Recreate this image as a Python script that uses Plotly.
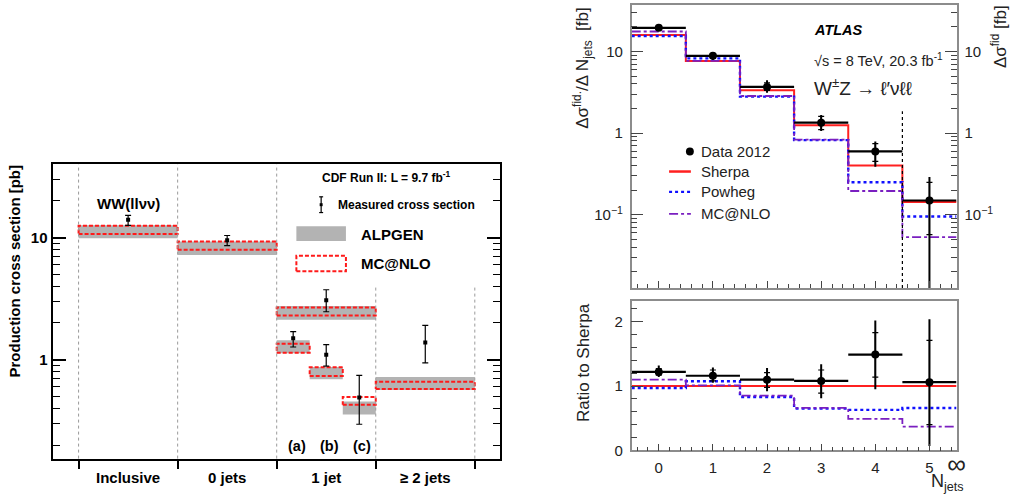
import plotly.graph_objects as go

W, H = 1024, 503

# ---------------- Left panel data (CDF WW cross sections, pb) ----------------
cdf_labels = ["Inclusive", "0 jets", "1 jet", "≥ 2 jets"]
cdf_bin_lo = [0, 1, 2, 2, 2.333, 2.667, 3]
cdf_bin_hi = [1, 2, 3, 2.333, 2.667, 3, 4]
alpgen_lo = [9.9, 7.2, 2.12, 1.13, 0.69, 0.356, 0.564]
alpgen_hi = [12.6, 9.3, 2.75, 1.44, 0.87, 0.455, 0.723]
mcnlo_lo = [10.7, 7.96, 2.30, 1.14, 0.736, 0.428, 0.574]
mcnlo_hi = [12.5, 9.29, 2.68, 1.35, 0.869, 0.495, 0.659]
meas = [14.0, 9.5, 3.07, 1.50, 1.10, 0.49, 1.38]
meas_hi = [15.2, 10.4, 3.74, 1.70, 1.33, 0.744, 1.91]
meas_lo = [12.6, 8.58, 2.47, 1.27, 0.886, 0.296, 0.941]

# ---------------- Right panel data (ATLAS WZ, fb) ----------------
njets = [0, 1, 2, 3, 4, 5]
njet_ticktext = ["0", "1", "2", "3", "4", "5"]
data2012 = [19.5, 8.85, 3.68, 1.34, 0.596, 0.149]
data_tot_up = [1.6, 1.0, 0.75, 0.33, 0.19, 0.14]
data_tot_dn = [1.6, 1.0, 0.55, 0.28, 0.21, 0.145]
data_stat_up = [0.7, 0.6, 0.45, 0.26, 0.147, 0.10]
data_stat_dn = [0.7, 0.6, 0.35, 0.24, 0.145, 0.092]
sherpa = [16.0, 7.65, 3.36, 1.25, 0.40, 0.143]
powheg = [15.5, 8.25, 2.80, 0.82, 0.25, 0.095]
mcatnlo = [17.6, 7.7, 2.85, 0.83, 0.195, 0.053]

ratio_data = [1.22, 1.16, 1.10, 1.08, 1.49, 1.06]
ratio_tot_up = [0.10, 0.13, 0.18, 0.26, 0.53, 0.98]
ratio_tot_dn = [0.08, 0.11, 0.18, 0.27, 0.54, 0.99]
ratio_stat_up = [0.05, 0.09, 0.11, 0.17, 0.34, 0.65]
ratio_stat_dn = [0.05, 0.08, 0.12, 0.19, 0.35, 0.66]
ratio_sherpa = [1.0, 1.0, 1.0, 1.0, 1.0, 1.0]
ratio_powheg = [0.97, 1.075, 0.83, 0.65, 0.63, 0.66]
ratio_mcatnlo = [1.10, 1.01, 0.85, 0.66, 0.49, 0.37]

FONT = "Liberation Sans"


def px(x):
    return x / W


def py(y):
    return 1 - y / H


def rects(x0s, x1s, y0s, y1s):
    xs, ys = [], []
    for a, b, c, d in zip(x0s, x1s, y0s, y1s):
        xs += [a, b, b, a, a, None]
        ys += [c, c, d, d, c, None]
    return xs, ys


def steps(vals):
    edges = [n - 0.5 for n in njets] + [njets[-1] + 0.5]
    return edges, list(vals) + [vals[-1]]


fig = go.Figure()

# ---- Left panel traces ----
ax, ay = rects(cdf_bin_lo, cdf_bin_hi, alpgen_lo, alpgen_hi)
fig.add_trace(go.Scatter(x=ax, y=ay, mode="lines", fill="toself", fillcolor="#b3b3b3",
                         line=dict(width=0, color="#b3b3b3"), xaxis="x", yaxis="y",
                         showlegend=False, hoverinfo="skip"))
mx, my = rects(cdf_bin_lo, cdf_bin_hi, mcnlo_lo, mcnlo_hi)
fig.add_trace(go.Scatter(x=mx, y=my, mode="lines",
                         line=dict(width=2, color="#ff1a1a", dash="4px,2px"),
                         xaxis="x", yaxis="y", showlegend=False, hoverinfo="skip"))
mcx = [(a + b) / 2 for a, b in zip(cdf_bin_lo, cdf_bin_hi)]
fig.add_trace(go.Scatter(
    x=mcx, y=meas, mode="markers", xaxis="x4", yaxis="y",
    marker=dict(symbol="square", size=4, color="black"),
    error_y=dict(type="data", symmetric=False,
                 array=[h - v for h, v in zip(meas_hi, meas)],
                 arrayminus=[v - l for v, l in zip(meas, meas_lo)],
                 color="black", thickness=1.2, width=3),
    showlegend=False))

# ---- Right top panel traces ----
for vals, col, dash, wid in [(sherpa, "#ff2020", "solid", 2),
                             (powheg, "#1010ff", "dot", 2.4),
                             (mcatnlo, "#7a1fc0", "dashdot", 1.8)]:
    sx, sy = steps(vals)
    fig.add_trace(go.Scatter(x=sx, y=sy, mode="lines", line_shape="hv",
                             line=dict(color=col, dash=dash, width=wid),
                             xaxis="x2", yaxis="y2", showlegend=False))
fig.add_trace(go.Scatter(
    x=njets, y=data2012, mode="markers", xaxis="x2", yaxis="y5",
    marker=dict(symbol="circle", size=8, color="black"),
    error_x=dict(type="constant", value=0.5, width=0, thickness=2.2, color="black"),
    error_y=dict(type="data", symmetric=False, array=data_tot_up, arrayminus=data_tot_dn,
                 width=0, thickness=2, color="black"),
    showlegend=False))
fig.add_trace(go.Scatter(
    x=njets, y=data2012, mode="markers", xaxis="x2", yaxis="y5",
    marker=dict(size=1, color="black"),
    error_y=dict(type="data", symmetric=False, array=data_stat_up, arrayminus=data_stat_dn,
                 width=3, thickness=1.2, color="black"),
    showlegend=False))

# ---- Ratio panel traces ----
for vals, col, dash, wid in [(ratio_sherpa, "#ff2020", "solid", 2),
                             (ratio_powheg, "#1010ff", "dot", 2.4),
                             (ratio_mcatnlo, "#7a1fc0", "dashdot", 1.8)]:
    sx, sy = steps(vals)
    fig.add_trace(go.Scatter(x=sx, y=sy, mode="lines", line_shape="hv",
                             line=dict(color=col, dash=dash, width=wid),
                             xaxis="x3", yaxis="y3", showlegend=False))
fig.add_trace(go.Scatter(
    x=njets, y=ratio_data, mode="markers", xaxis="x3", yaxis="y3",
    marker=dict(symbol="circle", size=8, color="black"),
    error_x=dict(type="constant", value=0.5, width=0, thickness=2.2, color="black"),
    error_y=dict(type="data", symmetric=False, array=ratio_tot_up, arrayminus=ratio_tot_dn,
                 width=0, thickness=2, color="black"),
    showlegend=False))
fig.add_trace(go.Scatter(
    x=njets, y=ratio_data, mode="markers", xaxis="x3", yaxis="y3",
    marker=dict(size=1, color="black"),
    error_y=dict(type="data", symmetric=False, array=ratio_stat_up, arrayminus=ratio_stat_dn,
                 width=3, thickness=1.2, color="black"),
    showlegend=False))

left_minor = [0.2, 0.3, 0.4, 0.5, 0.6, 0.7, 0.8, 0.9, 2, 3, 4, 5, 6, 7, 8, 9, 20, 30]
right_minor = [0.02, 0.03, 0.04, 0.05, 0.06, 0.07, 0.08, 0.09,
               0.2, 0.3, 0.4, 0.5, 0.6, 0.7, 0.8, 0.9, 2, 3, 4, 5, 6, 7, 8, 9, 20, 30]
FRAME = "#8c8c8c"
TICKC = "#444444"

fig.update_layout(
    width=W, height=H, autosize=False,
    margin=dict(l=0, r=0, t=0, b=0),
    paper_bgcolor="white", plot_bgcolor="rgba(0,0,0,0)",
    font=dict(family=FONT, color="black"),
    showlegend=False,
    xaxis=dict(domain=[px(53), px(504)], anchor="y", range=[-0.263, 4.25],
               tickmode="array", tickvals=[0.5, 1.5, 2.5, 3.5], ticktext=cdf_labels,
               ticks="", showline=True, mirror=True, linecolor="black", linewidth=2,
               showgrid=False, zeroline=False,
               tickfont=dict(size=15, family=FONT, weight="bold"), ticklabelstandoff=4),
    xaxis4=dict(overlaying="x", anchor="y", range=[-0.263, 4.25], tickmode="array",
                tickvals=[0, 1, 2, 3, 4], ticks="outside", ticklen=9, tickwidth=1.5,
                tickcolor="black", showticklabels=False, showline=False,
                showgrid=False, zeroline=False),
    yaxis=dict(domain=[py(466), py(167)], anchor="x", type="log", range=[-0.81, 1.6],
               tickmode="array", tickvals=[1, 10], ticktext=["1", "10"],
               ticks="inside", ticklen=13, tickwidth=1.5, tickcolor="black",
               showline=True, mirror="ticks", linecolor="black", linewidth=2,
               showgrid=False, zeroline=False,
               minor=dict(tickmode="array", tickvals=left_minor, ticks="inside",
                          ticklen=7, tickwidth=1.2, tickcolor="black", showgrid=False),
               tickfont=dict(size=15, family=FONT, weight="bold")),
    xaxis2=dict(domain=[px(637.3), px(965)], anchor="y2", range=[-0.5, 5.5],
                tickmode="array", tickvals=njets, showticklabels=False,
                ticks="inside", ticklen=7, tickcolor=TICKC, mirror=True,
                showline=True, linecolor=FRAME, linewidth=1.5,
                showgrid=False, zeroline=False,
                minor=dict(tick0=0, dtick=0.2, ticks="inside", ticklen=4,
                           tickcolor=TICKC, showgrid=False)),
    yaxis2=dict(domain=[py(292.7), py(4.7)], anchor="x2", type="log", range=[-1.9, 1.575],
                tickmode="array", tickvals=[0.1, 1, 10],
                ticktext=["10<sup>−1</sup>", "1", "10"],
                ticks="inside", ticklen=12, tickcolor=TICKC, mirror="ticks",
                showline=True, linecolor=FRAME, linewidth=1.5,
                showgrid=False, zeroline=False,
                minor=dict(tickmode="array", tickvals=right_minor, ticks="inside",
                           ticklen=6, tickcolor=TICKC, showgrid=False),
                tickfont=dict(size=15, family=FONT, color="#222"), ticklabelstandoff=4),
    yaxis5=dict(overlaying="y2", anchor="x2", side="right", type="log",
                range=[-1.9, 1.575], tickmode="array", tickvals=[0.1, 1, 10],
                ticktext=["10<sup>−1</sup>", "1", "10"], ticks="",
                showline=False, showgrid=False, zeroline=False,
                tickfont=dict(size=15, family=FONT, color="#222"), ticklabelstandoff=7),
    xaxis3=dict(domain=[px(637.3), px(965)], anchor="y3", range=[-0.5, 5.5],
                tickmode="array", tickvals=njets + [5.5],
                ticktext=njet_ticktext + ['<span style="font-size:26px">∞</span>'],
                ticks="inside", ticklen=7, tickcolor=TICKC,
                showline=True, mirror=True, linecolor=FRAME, linewidth=1.5,
                showgrid=False, zeroline=False,
                minor=dict(tick0=0, dtick=0.2, ticks="inside", ticklen=4,
                           tickcolor=TICKC, showgrid=False),
                tickfont=dict(size=15, family=FONT, color="#222"), ticklabelstandoff=3),
    yaxis3=dict(domain=[py(457.7), py(306)], anchor="x3", range=[0, 2.32],
                tickmode="array", tickvals=[0, 1, 2], ticktext=["0", "1", "2"],
                ticks="inside", ticklen=12, tickcolor=TICKC,
                showline=True, mirror=True, linecolor=FRAME, linewidth=1.5,
                showgrid=False, zeroline=False,
                minor=dict(tick0=0, dtick=0.2, ticks="inside", ticklen=6,
                           tickcolor=TICKC, showgrid=False),
                tickfont=dict(size=15, family=FONT, color="#222"), ticklabelstandoff=4),
)

shapes = []
# category separators (left panel)
for xb, top in [(0, 1), (1, 1), (2, 1), (3, 0.589), (4, 0.589)]:
    shapes.append(dict(type="line", xref="x", yref="y domain", x0=xb, x1=xb, y0=0, y1=top,
                       line=dict(color="#9a9a9a", width=1, dash="dot")))
# N_jets = 5 separator (right top)
shapes.append(dict(type="line", xref="x2", yref="y2 domain", x0=4.5, x1=4.5, y0=0, y1=0.624,
                   line=dict(color="black", width=1.2, dash="dot")))
# left legend symbols
shapes += [
    dict(type="line", xref="paper", yref="paper", x0=px(324), x1=px(324), y0=py(200), y1=py(216),
         line=dict(color="black", width=1.2)),
    dict(type="line", xref="paper", yref="paper", x0=px(322), x1=px(326), y0=py(200), y1=py(200),
         line=dict(color="black", width=1.2)),
    dict(type="line", xref="paper", yref="paper", x0=px(322), x1=px(326), y0=py(216), y1=py(216),
         line=dict(color="black", width=1.2)),
    dict(type="rect", xref="paper", yref="paper", x0=px(322.5), x1=px(325.5), y0=py(209.5), y1=py(206.5),
         fillcolor="black", line=dict(width=0)),
    dict(type="rect", xref="paper", yref="paper", x0=px(299), x1=px(349), y0=py(245), y1=py(230),
         fillcolor="#b3b3b3", line=dict(width=0)),
    dict(type="rect", xref="paper", yref="paper", x0=px(299), x1=px(349), y0=py(275.7), y1=py(260),
         line=dict(color="#ff1a1a", width=2, dash="4px,2px")),
]
# right legend symbols
shapes += [
    dict(type="circle", xref="paper", yref="paper", x0=px(692), x1=px(700), y0=py(158), y1=py(150),
         fillcolor="black", line=dict(width=0)),
    dict(type="line", xref="paper", yref="paper", x0=px(675), x1=px(697), y0=py(174.3), y1=py(174.3),
         line=dict(color="#ff2020", width=2.5)),
    dict(type="line", xref="paper", yref="paper", x0=px(675), x1=px(697), y0=py(195), y1=py(195),
         line=dict(color="#1010ff", width=2.4, dash="dot")),
    dict(type="line", xref="paper", yref="paper", x0=px(675), x1=px(697), y0=py(217.3), y1=py(217.3),
         line=dict(color="#7a1fc0", width=1.8, dash="dashdot")),
]
fig.update_layout(shapes=shapes)


def ann(text, x, y, size, xanchor="left", yanchor="middle", bold=False, italic=False,
        angle=0, color="black"):
    t = text
    if italic:
        t = "<i>" + t + "</i>"
    return dict(text=t, x=px(x), y=py(y), xref="paper", yref="paper", showarrow=False,
                xanchor=xanchor, yanchor=yanchor, textangle=angle,
                font=dict(size=size, family=FONT, color=color,
                          weight="bold" if bold else "normal"))


annotations = [
    # left panel
    ann("Production cross section [pb]", 15, 275, 15, "center", "middle", bold=True, angle=-90),
    ann("CDF Run II: L = 9.7 fb<sup>-1</sup>", 323, 180, 12, bold=True),
    ann("Measured cross section", 339, 208, 12, bold=True),
    ann("ALPGEN", 362, 238, 15, bold=True),
    ann("MC@NLO", 362, 268, 15, bold=True),
    ann("WW(llνν)", 130, 207, 15, "center", bold=True),
    ann("(a)", 300, 453, 14.5, "center", bold=True),
    ann("(b)", 332, 453, 14.5, "center", bold=True),
    ann("(c)", 365, 453, 14.5, "center", bold=True),
    # right panel
    ann("Δσ<sup>fid.</sup>/Δ N<sub>jets</sub>  [fb]", 588, 69, 17, "center", "middle", angle=-90, color="#222"),
    ann("Δσ<sup>fid</sup> [fb]", 1008, 37.5, 17, "center", "middle", angle=-90, color="#222"),
    ann("Ratio to Sherpa", 588, 368, 17, "center", "middle", angle=-90, color="#222"),
    ann("N<sub>jets</sub>", 937, 477, 18, "left", "top", color="#222"),
    ann("ATLAS", 819, 30, 14.5, bold=True, italic=True),
    ann("√s = 8 TeV, 20.3 fb<sup>-1</sup>", 819, 61, 14.5, color="#222"),
    ann("W<sup>±</sup>Z → ℓ′νℓℓ", 819, 88, 19, color="#222"),
    ann("Data 2012", 705, 154, 15, color="#222"),
    ann("Sherpa", 705, 174.3, 15, color="#222"),
    ann("Powheg", 705, 195, 15, color="#222"),
    ann("MC@NLO", 705, 217.3, 15, color="#222"),
]
fig.update_layout(annotations=annotations)

fig.write_html(
    "out.html", config={"displayModeBar": False},
    post_script=("document.documentElement.style.margin='0';"
                 "document.body.style.margin='0';"))
